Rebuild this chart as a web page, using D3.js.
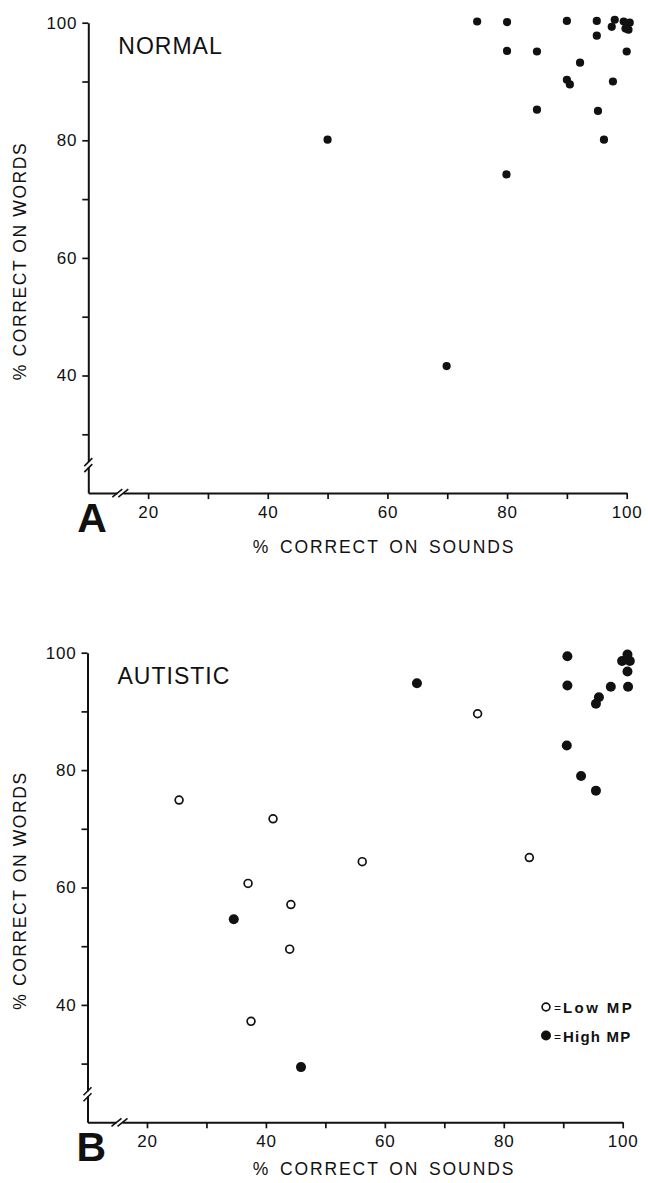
<!DOCTYPE html>
<html>
<head>
<meta charset="utf-8">
<script src="https://cdn.jsdelivr.net/npm/d3@7"></script>
<style>
  body { margin: 0; background: #fff; }
  svg text { font-family: "Liberation Sans", Arial, Helvetica, sans-serif; fill: #111; }
</style>
</head>
<body>
<div id="chart"></div>
<script>
// Panel A (normal): [sounds, words]
const normalSounds = [75, 80, 90, 95, 97.5, 98, 99.5, 100.5, 99.8, 100.3, 95, 80, 85, 100, 92.2, 90, 90.5, 97.7, 85, 95.2, 96.2, 50, 79.9, 69.9];
const normalWords  = [100.2, 100.1, 100.3, 100.3, 99.3, 100.5, 100.2, 100, 99, 98.8, 97.8, 95.2, 95.1, 95.1, 93.2, 90.3, 89.5, 90, 85.2, 85, 80.1, 80.1, 74.2, 41.6];

// Panel B (autistic), low MP (open) and high MP (filled)
const lowSounds  = [75.6, 25.4, 41.2, 56.2, 84.3, 37.0, 44.2, 44.0, 37.5];
const lowWords   = [89.6, 74.9, 71.7, 64.4, 65.1, 60.7, 57.1, 49.5, 37.2];
const highSounds = [90.7, 100.8, 99.9, 101.2, 100.8, 100.9, 98.0, 90.7, 96.0, 95.5, 90.6, 93.0, 95.5, 65.4, 34.6, 45.9];
const highWords  = [99.4, 99.7, 98.6, 98.6, 96.8, 94.2, 94.2, 94.4, 92.4, 91.3, 84.2, 79.0, 76.5, 94.8, 54.6, 29.4];

const xTicks = [20, 30, 40, 50, 60, 70, 80, 90, 100];
const yTicks = [30, 40, 50, 60, 70, 80, 90, 100];
const legendLabels = ["Low MP", "High MP"];

const W = 648, H = 1183;
const svg = d3.select('#chart').append('svg')
  .attr('width', W).attr('height', H);

svg.append('rect').attr('width', W).attr('height', H).attr('fill', '#fff');

function drawPanel(opt) {
  const x = d3.scaleLinear().domain([10, 100]).range([opt.left, opt.right]);
  const y = d3.scaleLinear().domain([20, 100]).range([opt.bottom, opt.top]);
  const g = svg.append('g');

  // y axis
  const yAxis = g.append('g')
    .attr('transform', `translate(${opt.left},0)`)
    .call(d3.axisLeft(y).tickValues(yTicks).tickSize(6).tickSizeOuter(0).tickPadding(5)
      .tickFormat(d => d % 20 === 0 ? d : ''));

  // x axis
  const xAxis = g.append('g')
    .attr('transform', `translate(0,${opt.bottom})`)
    .call(d3.axisBottom(x).tickValues(xTicks).tickSize(6).tickSizeOuter(0).tickPadding(7)
      .tickFormat(d => d % 20 === 0 ? d : ''));

  [yAxis, xAxis].forEach(a => {
    a.select('.domain').attr('stroke', '#111').attr('stroke-width', 2);
    a.selectAll('.tick line').attr('stroke', '#111').attr('stroke-width', 1.7);
    a.selectAll('.tick text').attr('font-size', 17).attr('letter-spacing', 0.8).attr('fill', '#111');
  });

  // axis breaks
  const yb = opt.bottom - 28;
  g.append('rect').attr('x', opt.left - 3).attr('y', yb - 3).attr('width', 6).attr('height', 5).attr('fill', '#fff');
  [-3, 3].forEach(o => {
    g.append('line')
      .attr('x1', opt.left - 4).attr('y1', yb + o + 4)
      .attr('x2', opt.left + 4).attr('y2', yb + o - 4)
      .attr('stroke', '#111').attr('stroke-width', 1.6);
  });
  const xb = opt.left + 32;
  g.append('rect').attr('x', xb - 3).attr('y', opt.bottom - 3).attr('width', 6).attr('height', 6).attr('fill', '#fff');
  [-3, 3].forEach(o => {
    g.append('line')
      .attr('x1', xb + o - 5).attr('y1', opt.bottom + 4)
      .attr('x2', xb + o + 5).attr('y2', opt.bottom - 4)
      .attr('stroke', '#111').attr('stroke-width', 1.6);
  });

  // titles
  g.append('text')
    .attr('transform', `translate(26,${(opt.top + opt.bottom) / 2 + 3}) rotate(-90)`)
    .attr('text-anchor', 'middle')
    .attr('font-size', 17.5).attr('letter-spacing', 1.6)
    .text('% CORRECT ON WORDS');

  g.append('text')
    .attr('x', 384).attr('y', opt.bottom + opt.titleOffset)
    .attr('text-anchor', 'middle')
    .attr('font-size', 17.5).attr('letter-spacing', 1.9).attr('word-spacing', 3)
    .text('% CORRECT ON SOUNDS');

  g.append('text')
    .attr('x', opt.left + 30).attr('y', opt.top + 31)
    .attr('font-size', 23).attr('letter-spacing', 1)
    .text(opt.name);

  g.append('text')
    .attr('x', opt.left - 11).attr('y', opt.bottom + 39)
    .attr('font-size', 41).attr('font-weight', 'bold')
    .text(opt.letter);

  return { g, x, y };
}

// Panel A
const A = drawPanel({ name: 'NORMAL', letter: 'A', left: 88.3, right: 626.7, top: 22.7, bottom: 493.1, titleOffset: 60 });
A.g.selectAll('circle.pt')
  .data(d3.zip(normalSounds, normalWords))
  .join('circle')
  .attr('class', 'pt')
  .attr('cx', d => A.x(d[0])).attr('cy', d => A.y(d[1]))
  .attr('r', 4.1).attr('fill', '#111');

// Panel B
const B = drawPanel({ name: 'AUTISTIC', letter: 'B', left: 87.5, right: 622.7, top: 652.7, bottom: 1122.3, titleOffset: 53 });
B.g.selectAll('circle.low')
  .data(d3.zip(lowSounds, lowWords))
  .join('circle')
  .attr('class', 'low')
  .attr('cx', d => B.x(d[0])).attr('cy', d => B.y(d[1]))
  .attr('r', 3.9).attr('fill', '#fff').attr('stroke', '#111').attr('stroke-width', 1.7);
B.g.selectAll('circle.high')
  .data(d3.zip(highSounds, highWords))
  .join('circle')
  .attr('class', 'high')
  .attr('cx', d => B.x(d[0])).attr('cy', d => B.y(d[1]))
  .attr('r', 5).attr('fill', '#111');

// legend
const leg = B.g.append('g').attr('transform', 'translate(546,1007)');
legendLabels.forEach((lab, i) => {
  const row = leg.append('g').attr('transform', `translate(0,${i * 28.5})`);
  if (i === 0) {
    row.append('circle').attr('r', 3.9).attr('fill', '#fff').attr('stroke', '#111').attr('stroke-width', 1.7);
  } else {
    row.append('circle').attr('r', 5).attr('fill', '#111');
  }
  row.append('text').attr('x', 8).attr('y', 5).attr('font-size', 12).text('=');
  row.append('text').attr('x', 17).attr('y', 6)
    .attr('font-size', 15).attr('font-weight', 'bold').attr('letter-spacing', i === 0 ? 2.4 : 1.2)
    .text(lab);
});
</script>
</body>
</html>
